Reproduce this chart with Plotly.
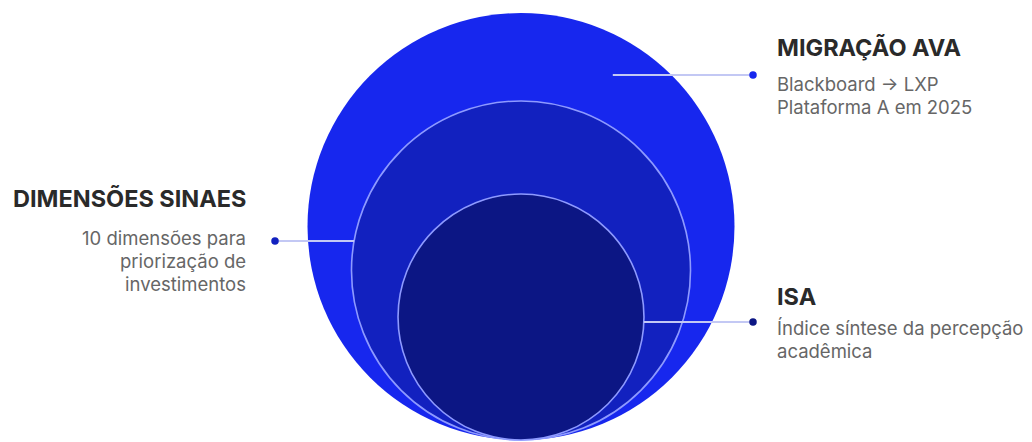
import numpy as np
import plotly.graph_objects as go

# ---- data ----
layers = ["MIGRAÇÃO AVA", "DIMENSÕES SINAES", "ISA"]
descriptions = [
    ["Blackboard → LXP", "Plataforma A em 2025"],
    ["10 dimensões para", "priorização de", "investimentos"],
    ["Índice síntese da percepção", "acadêmica"],
]
relative_size = [100, 79.4, 57.6]          # relative circle diameters
fill_colors = ["#1727EE", "#1221BF", "#0C1684"]
label_side = ["right", "left", "right"]

# ---- layout parameters (pixel-like canvas units) ----
PAGE_OFFSET = 8          # browser body margin
W, H = 1032 - PAGE_OFFSET, 442 - PAGE_OFFSET
cx = 521
base_y = 440            # circles are tangent at this bottom point
outer_r = 213.5
label_y = [75, 241, 322]            # y of leader line for each layer
right_dot_x = 753
left_dot_x = 275

radii = [outer_r * s / relative_size[0] for s in relative_size]

fig = go.Figure()

shapes = []
for i, r in enumerate(radii):
    cy = base_y - r
    shapes.append(dict(
        type="circle", xref="x", yref="y",
        x0=cx - r, x1=cx + r, y0=cy - r, y1=cy + r,
        fillcolor=fill_colors[i],
        line=dict(color="#8E9AFF" if i > 0 else fill_colors[i], width=1.6 if i > 0 else 0),
        layer="below",
    ))

# leader lines
for i, r in enumerate(radii):
    cy = base_y - r
    y = label_y[i]
    dy = y - cy
    if i == 0:
        x_start = cx + 0.43 * r
    else:
        half = np.sqrt(max(r * r - dy * dy, 0))
        x_start = cx - half if label_side[i] == "left" else cx + half
    x_end = right_dot_x if label_side[i] == "right" else left_dot_x
    fig.add_trace(go.Scatter(
        x=[x_start, x_end], y=[y, y], mode="lines",
        line=dict(color="#C3C8F4", width=2), hoverinfo="skip", showlegend=False))
    fig.add_trace(go.Scatter(
        x=[x_end], y=[y], mode="markers",
        marker=dict(color=fill_colors[i], size=7.5), hoverinfo="skip", showlegend=False))

# text
title_font = dict(family="Inter", size=23.5, color="#2A2A2A")
sub_font = dict(family="Inter", size=18.5, color="#666666")
title_y = [47, 198, 296]
sub_y0 = [84, 238, 328]
line_gap = [22.5, 23, 23]
annotations = []
for i, name in enumerate(layers):
    if label_side[i] == "right":
        x, anchor = 775, "left"
    else:
        x, anchor = 248, "right"
    annotations.append(dict(
        x=x, y=title_y[i], xref="x", yref="y", text="<b>" + name + "</b>",
        showarrow=False, xanchor=anchor, yanchor="middle", font=title_font,
        align=anchor))
    for j, line in enumerate(descriptions[i]):
        annotations.append(dict(
            x=x, y=sub_y0[i] + j * line_gap[i], xref="x", yref="y", text=line,
            showarrow=False, xanchor=anchor, yanchor="middle", font=sub_font,
            align=anchor))

fig.update_layout(
    width=W, height=H,
    margin=dict(l=0, r=0, t=0, b=0),
    paper_bgcolor="white", plot_bgcolor="white",
    shapes=shapes, annotations=annotations,
    xaxis=dict(range=[PAGE_OFFSET, W + PAGE_OFFSET], visible=False, fixedrange=True),
    yaxis=dict(range=[H + PAGE_OFFSET, PAGE_OFFSET], visible=False, fixedrange=True),
    showlegend=False,
)

fig.write_html("out.html", config={"displayModeBar": False})
